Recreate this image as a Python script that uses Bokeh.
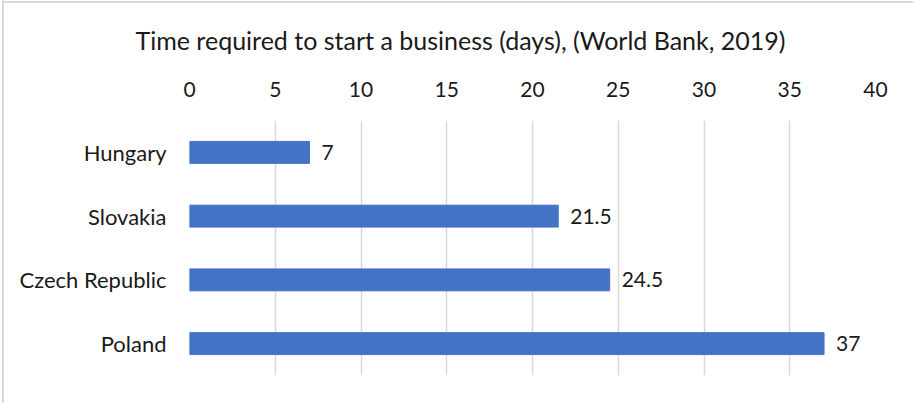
from bokeh.plotting import figure
from bokeh.models import ColumnDataSource, LabelSet, Range1d, FactorRange, FixedTicker, Title, InlineStyleSheet
from bokeh.core.properties import value
from bokeh.embed import file_html
from bokeh.resources import INLINE

countries = ["Hungary", "Slovakia", "Czech Republic", "Poland"]
days = [7, 21.5, 24.5, 37]
labels = ["7", "21.5", "24.5", "37"]
ticks = [0, 5, 10, 15, 20, 25, 30, 35, 40]

FONT = "Lato"
TXT = "#1a1a1a"

src = ColumnDataSource(dict(country=countries, days=days, label=labels))

p = figure(width=911, height=404, output_backend="svg", toolbar_location=None,
           y_range=FactorRange(factors=list(reversed(countries)), range_padding=0),
           x_range=Range1d(0, 40), x_axis_location="above",
           min_border_left=185, min_border_right=40, min_border_top=121, min_border_bottom=28,
           styles={"border-left": "2px solid #d9d9d9",
                   "margin-left": "2px", "margin-top": "-1px", "position": "relative"})
p.stylesheets = [InlineStyleSheet(css=":host::after {content: ''; position: absolute; left: 0px; top: 2px; width: 100%; height: 2px; background: #d9d9d9; z-index: 100; pointer-events: none;}")]

p.hbar(y="country", right="days", height=0.344, source=src, color="#4472C4")

p.add_layout(LabelSet(x="days", y="country", text="label", source=src, x_offset=12,
                      text_baseline="middle", text_font=value(FONT), text_font_size="21px",
                      text_color=TXT))

t = Title(text="Time required to start a business (days), (World Bank, 2019)",
          align="left", text_font=FONT, text_font_size="25px", text_font_style="normal",
          text_color=TXT, standoff=47, offset=-54)
p.add_layout(t, "above")

xa = p.xaxis[0]
xa.ticker = FixedTicker(ticks=ticks)
xa.axis_line_color = None
xa.major_tick_line_color = None
xa.minor_tick_line_color = None
xa.major_label_standoff = 18
xa.major_label_text_font = FONT
xa.major_label_text_font_size = "21px"
xa.major_label_text_color = TXT

ya = p.yaxis[0]
ya.axis_line_color = None
ya.major_tick_line_color = None
ya.major_label_standoff = 17
ya.major_label_text_font = FONT
ya.major_label_text_font_size = "22px"
ya.major_label_text_color = TXT

p.xgrid.grid_line_color = "#d9d9d9"
p.xgrid.grid_line_width = 1.5
p.xgrid.ticker = FixedTicker(ticks=ticks)
p.ygrid.grid_line_color = None
p.outline_line_color = None
p.background_fill_color = "white"
p.border_fill_color = "white"

open("out.html", "w").write(file_html(p, INLINE))
